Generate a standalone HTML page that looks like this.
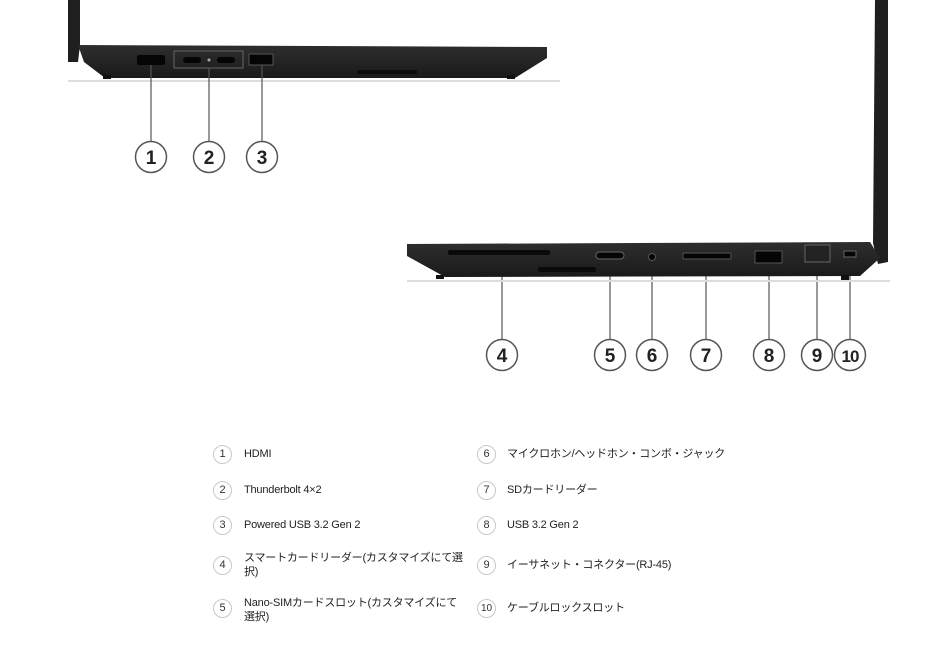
<!DOCTYPE html>
<html><head><meta charset="utf-8"><style>
body{margin:0;background:#fff;width:945px;height:651px;overflow:hidden;position:relative;font-family:"Liberation Sans","Noto Sans CJK JP",sans-serif}
svg{position:absolute;left:0;top:0}
.c{position:absolute;width:17px;height:17px;border:1px solid #c8c8c8;border-radius:50%;font-size:11px;line-height:17px;text-align:center;color:#333}
.t{position:absolute;font-size:11px;color:#222;line-height:14px;letter-spacing:-0.2px;white-space:nowrap}
</style></head><body>
<svg width="945" height="651" viewBox="0 0 945 651">
<defs><linearGradient id="g" x1="0" y1="0" x2="0" y2="1"><stop offset="0" stop-color="#2e2e2e"/><stop offset="1" stop-color="#1a1a1a"/></linearGradient></defs>
<line x1="68" y1="81" x2="560" y2="81" stroke="#ddd" stroke-width="2"/>
<path d="M68 0 L80 0 L80 45 L78 62 L68 62 Z" fill="#1f1f1f"/>
<path d="M78 45 L547 47 L547 58 L515 78 L105 78 L84 62 Z" fill="url(#g)"/>
<rect x="103" y="75" width="8" height="4" fill="#111"/><rect x="507" y="75" width="8" height="4" fill="#111"/>
<rect x="357" y="70" width="60" height="4" rx="2" fill="#0c0c0c"/>
<rect x="137" y="55" width="28" height="10" rx="2" fill="#050505"/>
<rect x="174" y="51" width="69" height="17" fill="none" stroke="#666" stroke-width="1"/>
<rect x="183" y="57" width="18" height="6" rx="3" fill="#050505"/><rect x="217" y="57" width="18" height="6" rx="3" fill="#050505"/>
<circle cx="209" cy="60" r="1.5" fill="#aaa"/>
<rect x="249" y="54" width="24" height="11" fill="#050505" stroke="#555"/>
<g stroke="#555" stroke-width="1.2" fill="none">
<line x1="151" y1="65" x2="151" y2="141"/><line x1="209" y1="68" x2="209" y2="141"/><line x1="262" y1="65" x2="262" y2="141"/>
<line x1="502" y1="255" x2="502" y2="339"/><line x1="610" y1="255" x2="610" y2="339"/><line x1="652" y1="258" x2="652" y2="339"/><line x1="706" y1="259" x2="706" y2="339"/><line x1="769" y1="260" x2="769" y2="339"/><line x1="817" y1="262" x2="817" y2="339"/><line x1="850" y1="258" x2="850" y2="339"/>
</g>
<line x1="407" y1="281" x2="890" y2="281" stroke="#ddd" stroke-width="2"/>
<path d="M875 0 L888 0 L888 262 L878 264 L873 243 Z" fill="#1f1f1f"/>
<path d="M407 244 L870 242 L880 258 L860 276 L445 277 L407 256 Z" fill="url(#g)"/>
<rect x="436" y="275" width="8" height="4" fill="#111"/><rect x="841" y="275" width="8" height="5" fill="#111"/>
<rect x="448" y="250" width="102" height="5" rx="2" fill="#0a0a0a"/>
<rect x="538" y="267" width="58" height="5" rx="2" fill="#0a0a0a"/>
<rect x="596" y="252" width="28" height="7" rx="3.5" fill="#050505" stroke="#666"/>
<circle cx="652" cy="257" r="3.5" fill="#050505" stroke="#555"/>
<rect x="683" y="253" width="48" height="6" rx="1" fill="#050505" stroke="#555"/>
<rect x="755" y="251" width="27" height="12" fill="#050505" stroke="#555"/>
<rect x="805" y="245" width="25" height="17" fill="#222" stroke="#666"/>
<rect x="844" y="251" width="12" height="6" fill="#050505" stroke="#666"/>
<g fill="#fff" stroke="#555" stroke-width="1.5">
<circle cx="151" cy="157" r="15.5"/><circle cx="209" cy="157" r="15.5"/><circle cx="262" cy="157" r="15.5"/>
<circle cx="502" cy="355" r="15.5"/><circle cx="610" cy="355" r="15.5"/><circle cx="652" cy="355" r="15.5"/><circle cx="706" cy="355" r="15.5"/><circle cx="769" cy="355" r="15.5"/><circle cx="817" cy="355" r="15.5"/><circle cx="850" cy="355" r="15.5"/>
</g>
<g fill="#222" font-family="Liberation Sans,sans-serif" font-weight="bold" font-size="19" text-anchor="middle">
<text x="151" y="164">1</text><text x="209" y="164">2</text><text x="262" y="164">3</text>
<text x="502" y="362">4</text><text x="610" y="362">5</text><text x="652" y="362">6</text><text x="706" y="362">7</text><text x="769" y="362">8</text><text x="817" y="362">9</text><text x="850" y="362" font-size="17" letter-spacing="-1">10</text>
</g>
</svg>
<div class="c" style="left:213px;top:445px">1</div><div class="t" style="left:244px;top:447px">HDMI</div>
<div class="c" style="left:213px;top:481px">2</div><div class="t" style="left:244px;top:483px">Thunderbolt 4×2</div>
<div class="c" style="left:213px;top:516px">3</div><div class="t" style="left:244px;top:518px">Powered USB 3.2 Gen 2</div>
<div class="c" style="left:213px;top:556px">4</div><div class="t" style="left:244px;top:551px">スマートカードリーダー(カスタマイズにて選<br>択)</div>
<div class="c" style="left:213px;top:599px">5</div><div class="t" style="left:244px;top:596px">Nano-SIMカードスロット(カスタマイズにて<br>選択)</div>
<div class="c" style="left:477px;top:445px">6</div><div class="t" style="left:507px;top:447px">マイクロホン/ヘッドホン・コンボ・ジャック</div>
<div class="c" style="left:477px;top:481px">7</div><div class="t" style="left:507px;top:483px">SDカードリーダー</div>
<div class="c" style="left:477px;top:516px">8</div><div class="t" style="left:507px;top:518px">USB 3.2 Gen 2</div>
<div class="c" style="left:477px;top:556px">9</div><div class="t" style="left:507px;top:558px">イーサネット・コネクター(RJ-45)</div>
<div class="c" style="left:477px;top:599px;font-size:10px">10</div><div class="t" style="left:507px;top:601px">ケーブルロックスロット</div>
</body></html>
